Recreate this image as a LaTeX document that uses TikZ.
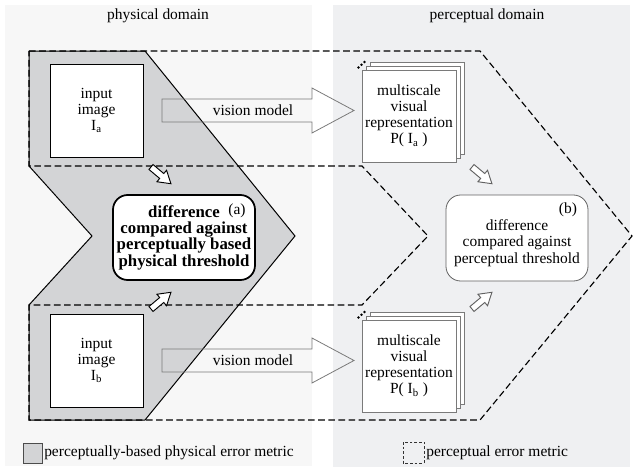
\documentclass[tikz,border=0pt]{standalone}
\usepackage{fontspec}
\setmainfont{Liberation Serif}
\definecolor{leftbg}{HTML}{F7F7F7}
\definecolor{rightbg}{HTML}{EFF0F2}
\definecolor{metricgray}{HTML}{D3D4D6}
\definecolor{arrgray}{HTML}{7A7A7A}
\tikzset{
  reg/.style={font=\fontsize{11.6}{12}\selectfont, align=center, inner sep=0pt},
  boldtxt/.style={font=\fontsize{12.6}{11.4}\selectfont\bfseries, align=center, inner sep=0pt},
  imgbox/.style={draw=black, line width=0.7pt, fill=white, minimum width=69.75pt, minimum height=69.75pt, inner sep=0pt},
  page/.style={draw=arrgray, line width=0.6pt, fill=white},
  pagenode/.style={page, minimum width=70.5pt, minimum height=69pt, inner sep=0pt, align=center, font=\fontsize{11.6}{12}\selectfont},
  dashline/.style={black, line width=0.85pt, dash pattern=on 5pt off 2.6pt},
  bigarrow/.style={draw=arrgray, line width=0.6pt},
  smallarr/.style={fill=white, line width=0.7pt},
}
\newcommand{\smarrow}[3]{\draw[smallarr,draw=#3,shift={#1},rotate=#2] (0,-3.2)--(14,-3.2)--(14,-7.5)--(26,0)--(14,7.5)--(14,3.2)--(0,3.2)--cycle;}
\begin{document}
\begin{tikzpicture}[x=0.75pt,y=-0.75pt]
\useasboundingbox (0,0) rectangle (633,471);
% panels
\fill[leftbg] (5,5) rectangle (312,466);
\fill[rightbg] (333,5) rectangle (630,467);
\node[reg] (hphys) at (158,16) {physical domain};
\node[reg] (hperc) at (487,16) {perceptual domain};
% perceptually-based physical error metric region
\draw[fill=metricgray, line width=0.75pt] (29,51) -- (145,51) -- (295,236) -- (145,420) -- (29,420) -- (29,305) -- (92,236) -- (29,166) -- cycle;
% perceptual error metric region
\draw[dashline] (29,51) -- (480,51) -- (632,236) -- (480,420) -- (29,420) -- (29,305) -- (362,305) -- (428,236) -- (362,166) -- (29,166) -- cycle;
% input images
\node[imgbox] (ia) at (96.5,110.5) {};
\node[reg] (iat) at (ia.center) {input\\image\\I\textsubscript{a}};
\node[imgbox] (ib) at (96.5,360.5) {};
\node[reg] (ibt) at (ib.center) {input\\image\\I\textsubscript{b}};
% vision model arrows
\draw[bigarrow] (162,99) -- (312,99) -- (312,88) -- (354,110.5) -- (312,133) -- (312,122) -- (162,122) -- cycle;
\node[reg] (vma) at (253,110.5) {vision model};
\draw[bigarrow] (162,349) -- (312,349) -- (312,338) -- (354,360.5) -- (312,383) -- (312,372) -- (162,372) -- cycle;
\node[reg] (vmb) at (253,360.5) {vision model};
% multiscale stacks
\draw[page] (370,62) rectangle (464,154);
\draw[page] (366,66) rectangle (460,158);
\node[pagenode] (pa) at (409,116) {multiscale\\visual\\representation\\P( I\textsubscript{a} )};
\fill (358.5,67.5) circle (1.4) (361.5,64.8) circle (1.4) (364.5,62) circle (1.4);
\draw[page] (370,312) rectangle (464,404);
\draw[page] (366,316) rectangle (460,408);
\node[pagenode] (pb) at (409,366) {multiscale\\visual\\representation\\P( I\textsubscript{b} )};
\fill (358.5,317.5) circle (1.4) (361.5,314.8) circle (1.4) (364.5,312) circle (1.4);
% difference boxes
\node[draw=black, line width=1.3pt, fill=white, rounded corners=11pt, minimum width=106.5pt, minimum height=63.75pt, inner sep=0pt] (da) at (184,237.5) {};
\node[boldtxt] (dat) at (184,238) {difference\\compared against\\perceptually based\\physical threshold};
\node[reg] (la) at (237,211) {(a)};
\node[draw=arrgray!80!black, line width=0.6pt, fill=white, rounded corners=11pt, minimum width=106.5pt, minimum height=64.5pt, inner sep=0pt] (db) at (517,238) {};
\node[font=\fontsize{11.6}{12.6}\selectfont, align=center, inner sep=0pt] (dbt) at (517,243) {difference\\compared against\\perceptual threshold};
\node[reg] (lb) at (568,209.5) {(b)};
% small arrows
\smarrow{(151,167)}{-40}{black}
\smarrow{(151,309)}{40}{black}
\smarrow{(472,167)}{-40}{arrgray!80!black}
\smarrow{(472,309)}{40}{arrgray!80!black}
% legend
\draw[fill=metricgray, draw=black!70, line width=0.6pt] (23,443) rectangle (42,463);
\node[reg, anchor=west] (lg1) at (44,453) {perceptually-based physical error metric};
\draw[black!80, line width=0.6pt, dash pattern=on 2pt off 1.5pt] (403,442) rectangle (424,463);
\node[reg, anchor=west] (lg2) at (426,453) {perceptual error metric};
\end{tikzpicture}
\end{document}
